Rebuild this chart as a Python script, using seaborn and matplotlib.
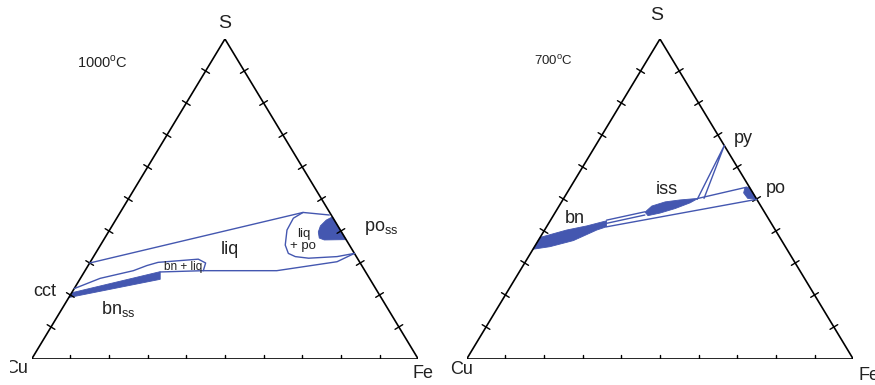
import matplotlib
matplotlib.use("Agg")

import numpy as np
import matplotlib.pyplot as plt
from matplotlib.transforms import Bbox
import seaborn as sns

BLUE = "#4457b0"

# compositions in at.% (S, Fe); Cu is the remainder
# ---- 1000 C ----
liq_upper_s = [30.0, 45.8, 45.0]
liq_upper_fe = [0.0, 47.3, 54.5]
liq_po_s = [45.8, 44.0, 40.3, 35.6, 33.0, 32.0, 31.5, 32.0, 33.0]
liq_po_fe = [47.3, 45.7, 45.9, 47.8, 49.9, 52.2, 55.9, 63.0, 67.0]
liq_lower_s = [27.6, 27.6, 30.4, 33.0]
liq_lower_fe = [30.6, 49.6, 63.8, 67.0]
bn_liq_s = [22.0, 25.2, 27.6, 29.2, 30.2, 31.2, 30.0, 27.6, 27.2]
bn_liq_fe = [0.0, 5.1, 12.5, 15.2, 17.6, 27.5, 30.0, 30.6, 19.7]
bnss_s = [20.7, 27.3, 24.9, 19.2]
bnss_fe = [0.0, 19.6, 20.8, 0.0]
poss_s = [44.4, 43.4, 41.6, 39.7, 37.8, 37.2, 37.3]
poss_fe = [55.6, 54.5, 53.9, 54.3, 55.5, 57.1, 62.7]

# ---- 700 C ----
bn_s = [38.0, 40.3, 41.6, 43.2, 41.3, 40.3, 37.0, 35.1, 34.3]
bn_fe = [0.0, 5.7, 10.3, 14.6, 15.5, 13.5, 9.1, 4.0, 0.0]
iss_s = [45.9, 47.8, 49.1, 49.7, 50.2, 48.8, 47.0, 45.6, 44.8]
iss_fe = [23.2, 24.0, 26.8, 30.3, 34.8, 33.4, 30.4, 27.2, 24.5]
po_s = [53.6, 51.9, 50.2, 49.9, 53.7]
po_fe = [45.2, 45.7, 47.6, 50.1, 46.3]
bn_iss_a_s = [43.4, 46.0]
bn_iss_a_fe = [14.5, 23.1]
bn_iss_b_s = [42.4, 45.0]
bn_iss_b_fe = [15.0, 23.6]
iss_po_s = [50.2, 53.7]
iss_po_fe = [34.8, 45.6]
bn_po_s = [41.3, 49.9]
bn_po_fe = [15.5, 50.1]
py_iss_s = [49.9, 66.7, 50.2]
py_iss_fe = [34.7, 33.3, 36.3]

TICKS = np.arange(0.1, 1.0, 0.1)


def tern(s, fe):
    s = np.asarray(s) / 100.0
    fe = np.asarray(fe) / 100.0
    return fe + s / 2.0, s


def draw_frame(ax, sx, sy):
    verts = np.array([[0, 0], [1, 0], [0.5, 1], [0, 0]])
    ax.plot(verts[:, 0], verts[:, 1], color="black", lw=1.2, solid_joinstyle="miter")
    for a, b in [(verts[0], verts[1]), (verts[1], verts[2]), (verts[2], verts[0])]:
        d = np.array([(b[0] - a[0]) * sx, (b[1] - a[1]) * sy])
        d /= np.hypot(*d)
        n = np.array([-d[1], d[0]]) * 4.5
        off = np.array([n[0] / sx, n[1] / sy])
        for t in TICKS:
            p = a + (b - a) * t
            ax.plot([p[0] - off[0], p[0] + off[0]], [p[1] - off[1], p[1] + off[1]],
                    color="black", lw=1.0)


def line(ax, s, fe):
    x, y = tern(s, fe)
    sns.lineplot(x=x, y=y, sort=False, estimator=None, color=BLUE, lw=1.0, ax=ax)


def blob(ax, s, fe):
    x, y = tern(s, fe)
    ax.fill(x, y, facecolor=BLUE, edgecolor=BLUE, lw=0.6)


sns.set_style("white")
plt.rcParams["font.family"] = ["Liberation Sans", "DejaVu Sans"]

fig = plt.figure(figsize=(8.75, 3.85), dpi=100)
W, H = 875.0, 385.0
ax1 = fig.add_axes([31.7 / W, 26 / H, 386.5 / W, 320 / H])
ax2 = fig.add_axes([466.7 / W, 26 / H, 386.5 / W, 320 / H])
for ax in (ax1, ax2):
    ax.set_xlim(0, 1)
    ax.set_ylim(0, 1)
    ax.axis("off")
    draw_frame(ax, 386.5, 320)

# 1000 C panel
line(ax1, liq_upper_s, liq_upper_fe)
line(ax1, liq_po_s, liq_po_fe)
line(ax1, liq_lower_s, liq_lower_fe)
line(ax1, bn_liq_s, bn_liq_fe)
blob(ax1, bnss_s, bnss_fe)
blob(ax1, poss_s, poss_fe)

kw = dict(ha="center", va="center", color="#222222")
ax1.text(0.498, 1.048, "S", fontsize=14, **kw)
cu = ax1.text(-0.038, -0.03, "Cu", fontsize=13, **kw)
# the left edge of the source image cuts into the "C"
cu.set_clip_box(Bbox.from_extents(10, 0, W, H))
cu.set_clip_on(True)
ax1.text(1.013, -0.045, "Fe", fontsize=13, **kw)
ax1.text(0.183, 0.928, r"1000$^{\mathregular{o}}$C", fontsize=10.5, **kw)
ax1.text(0.034, 0.21, "cct", fontsize=13, **kw)
ax1.text(0.225, 0.155, r"bn$_{\mathregular{ss}}$", fontsize=13, **kw)
ax1.text(0.513, 0.341, "liq", fontsize=13, **kw)
ax1.text(0.703, 0.372, "liq\n+ po", fontsize=9.5, linespacing=0.9, **kw)
ax1.text(0.391, 0.288, "bn + liq", fontsize=8.5, **kw)
ax1.text(0.905, 0.41, r"po$_{\mathregular{ss}}$", fontsize=13, **kw)

# 700 C panel
blob(ax2, bn_s, bn_fe)
blob(ax2, iss_s, iss_fe)
blob(ax2, po_s, po_fe)
line(ax2, bn_iss_a_s, bn_iss_a_fe)
line(ax2, bn_iss_b_s, bn_iss_b_fe)
line(ax2, iss_po_s, iss_po_fe)
line(ax2, bn_po_s, bn_po_fe)
line(ax2, py_iss_s, py_iss_fe)

ax2.text(0.491, 1.072, "S", fontsize=14, **kw)
ax2.text(-0.013, -0.034, "Cu", fontsize=13, **kw)
ax2.text(1.04, -0.05, "Fe", fontsize=13, **kw)
ax2.text(0.223, 0.931, r"700$^{\mathregular{o}}$C", fontsize=9.5, **kw)
ax2.text(0.715, 0.69, "py", fontsize=13, **kw)
ax2.text(0.8, 0.534, "po", fontsize=13, **kw)
ax2.text(0.518, 0.531, "iss", fontsize=13, **kw)
ax2.text(0.28, 0.4375, "bn", fontsize=13, **kw)

fig.savefig("out.png", dpi=100)
